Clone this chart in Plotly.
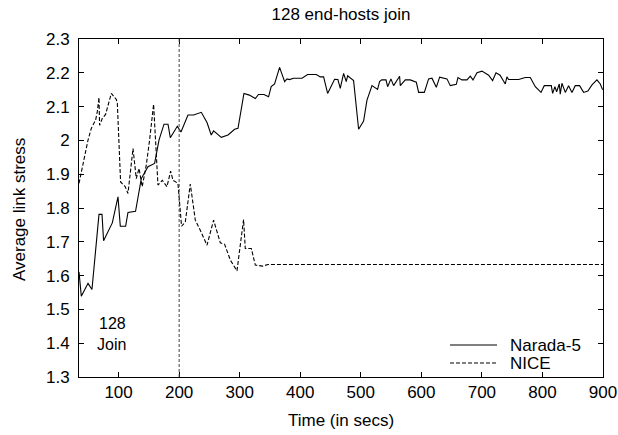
import plotly.graph_objects as go

# ---- data ----
narada_x = [34.6, 38.4, 49.5, 56, 67.6, 72.6, 75.2, 89.6, 99, 102.8, 111.6, 115.5, 128, 137.5,
            148.5, 159.5, 166.7, 175, 181.6, 185.4, 197, 203, 214.6, 223.9, 236.6, 246, 253,
            256.9, 269.6, 280.7, 291.6, 297.2, 307, 315.9, 325.8, 331, 340, 347.7, 352, 357.6,
            365.9, 374.2, 378.1, 382, 389, 402.9, 412.2, 426.5, 433.1, 438.6, 445.2, 456.7,
            462.2, 466.1, 471.6, 476, 478.2, 483, 488.1, 496.4, 504.6, 510.2, 518.5, 527.7, 531,
            534.5, 541.6, 544.3, 549.8, 554.2, 564.1, 565.2, 573.5, 581.7, 591.7, 595.5, 604.9,
            612, 617.5, 624.7, 630.2, 642.3, 647.8, 657.7, 660.5, 667, 675.4, 680.8, 685.3,
            691.9, 700.1, 711.1, 717.7, 723.3, 730, 738.6, 741.3, 744.1, 760.6, 771.7, 779.9,
            788.2, 797.6, 803, 814.6, 816.8, 820.6, 823.4, 827.8, 829.4, 832.2, 837.7, 843.2,
            848.7, 854.2, 861.3, 868, 875, 881.8, 890, 895.5, 899.4]
narada_y = [1.611, 1.539, 1.577, 1.559, 1.781, 1.781, 1.703, 1.756, 1.833, 1.746, 1.746, 1.787,
            1.790, 1.887, 1.922, 1.932, 2.001, 2.048, 2.048, 2.008, 2.042, 2.025, 2.075, 2.075,
            2.083, 2.053, 2.016, 2.028, 2.009, 2.016, 2.033, 2.036, 2.139, 2.134, 2.124, 2.136,
            2.136, 2.129, 2.159, 2.167, 2.216, 2.174, 2.182, 2.180, 2.184, 2.184, 2.195, 2.195,
            2.188, 2.188, 2.139, 2.181, 2.180, 2.154, 2.198, 2.174, 2.191, 2.184, 2.177, 2.033,
            2.057, 2.119, 2.162, 2.151, 2.174, 2.179, 2.179, 2.159, 2.182, 2.162, 2.190, 2.162,
            2.179, 2.179, 2.172, 2.142, 2.142, 2.182, 2.184, 2.157, 2.187, 2.182, 2.162, 2.166,
            2.186, 2.179, 2.179, 2.190, 2.179, 2.200, 2.205, 2.193, 2.177, 2.200, 2.193, 2.167,
            2.188, 2.180, 2.180, 2.186, 2.186, 2.159, 2.142, 2.162, 2.162, 2.139, 2.159, 2.144,
            2.167, 2.137, 2.169, 2.142, 2.162, 2.142, 2.162, 2.162, 2.142, 2.146, 2.164, 2.179,
            2.167, 2.150]

nice_x = [34.6, 42.2, 49.5, 55, 62, 64.8, 67.6, 68.6, 73, 78.5, 83.5, 88, 96.2, 97.9, 103.3,
          111, 115.5, 123.8, 129.2, 133.7, 139, 145.7, 151.2, 157.8, 165, 172.2, 179.9, 185.9,
          189.8, 198, 204, 210.2, 218.4, 226.7, 234.9, 246, 256.9, 268, 275, 284.5, 295.5,
          306.4, 309.2, 319.2, 325.8, 338, 346.7, 900]
nice_y = [1.873, 1.942, 2.001, 2.036, 2.060, 2.085, 2.127, 2.045, 2.065, 2.077, 2.110, 2.139,
          2.121, 2.110, 1.877, 1.863, 1.843, 1.976, 1.887, 1.917, 1.863, 1.927, 2.001, 2.107,
          1.868, 1.882, 1.863, 1.909, 1.882, 1.873, 1.746, 1.759, 1.871, 1.764, 1.734, 1.690,
          1.764, 1.697, 1.693, 1.646, 1.614, 1.766, 1.680, 1.680, 1.631, 1.628, 1.633, 1.633]

series_names = ["Narada-5", "NICE"]
join_time = 200
join_label = ["128", "Join"]
x_ticks = [100, 200, 300, 400, 500, 600, 700, 800, 900]
y_ticks = [1.3, 1.4, 1.5, 1.6, 1.7, 1.8, 1.9, 2.0, 2.1, 2.2, 2.3]
y_tick_labels = ["1.3", "1.4", "1.5", "1.6", "1.7", "1.8", "1.9", "2", "2.1", "2.2", "2.3"]

FONT = "Liberation Sans, Arial, Helvetica, sans-serif"
FS = 17
W, H = 618, 435
ML, MT, MR, MB = 79, 39, 15, 58
PW, PH = W - ML - MR, H - MT - MB
PLOT_L, PLOT_B = ML, MT + PH


def px_x(win_x):
    return (win_x - PLOT_L) / PW


def px_y(win_y):
    return (PLOT_B - win_y) / PH


dashes = [None, "4px,2px"]

fig = go.Figure()
fig.add_trace(go.Scatter(x=narada_x, y=narada_y, mode="lines", name=series_names[0],
                         line=dict(color="black", width=1.1), showlegend=False))
fig.add_trace(go.Scatter(x=nice_x, y=nice_y, mode="lines", name=series_names[1],
                         line=dict(color="black", width=1.1, dash=dashes[1]), showlegend=False))

fig.add_vline(x=join_time, line=dict(color="#444", width=1, dash="3px,2px"))

# in-plot label
fig.add_annotation(x=116, y=1.426, text=join_label[0], showarrow=False, xanchor="right",
                   yanchor="bottom", font=dict(size=16, color="black", family=FONT))
fig.add_annotation(x=116, y=1.426, text=join_label[1], showarrow=False, xanchor="right",
                   yanchor="top", font=dict(size=16, color="black", family=FONT))

# legend key (drawn manually for gnuplot-like spacing)
key_rows_px = [345, 363]
for name, dash, ypx in zip(series_names, dashes, key_rows_px):
    yp = px_y(ypx)
    fig.add_shape(type="line", xref="paper", yref="paper",
                  x0=px_x(450), x1=px_x(497), y0=yp, y1=yp,
                  line=dict(color="black", width=1.1, dash=dash))
    fig.add_annotation(xref="paper", yref="paper", x=px_x(508), y=yp, text=name,
                       showarrow=False, xanchor="left", yanchor="middle",
                       font=dict(size=FS, color="black", family=FONT))

# axis titles
fig.add_annotation(xref="paper", yref="paper", x=px_x(341), y=px_y(420),
                   text="Time (in secs)", showarrow=False, xanchor="center", yanchor="middle",
                   font=dict(size=FS, color="black", family=FONT))
fig.add_annotation(xref="paper", yref="paper", x=px_x(19), y=px_y(210),
                   text="Average link stress", textangle=-90, showarrow=False,
                   xanchor="center", yanchor="middle",
                   font=dict(size=FS, color="black", family=FONT))

axis_common = dict(showline=True, linecolor="black", linewidth=1, mirror="ticks",
                   ticks="inside", ticklen=5, tickcolor="black", showgrid=False,
                   zeroline=False, automargin=False,
                   tickfont=dict(size=FS, color="black", family=FONT))

fig.update_xaxes(range=[34.6, 900], tickvals=x_ticks, **axis_common)
fig.update_yaxes(range=[1.3, 2.3], tickvals=y_ticks, ticktext=y_tick_labels,
                 ticklabelstandoff=5, **axis_common)

fig.update_layout(
    width=W, height=H,
    margin=dict(l=ML, r=MR, t=MT, b=MB),
    plot_bgcolor="white", paper_bgcolor="white",
    title=dict(text="128 end-hosts join", x=341 / W, xanchor="center",
               y=1 - 14 / H, yanchor="middle",
               font=dict(size=FS, family=FONT, color="black")),
    font=dict(family=FONT, color="black"),
    showlegend=False,
    hovermode=False,
)

fig.write_html("out.html", config={"displayModeBar": False},
               post_script="document.body.style.margin='0';document.body.style.overflow='hidden';")
